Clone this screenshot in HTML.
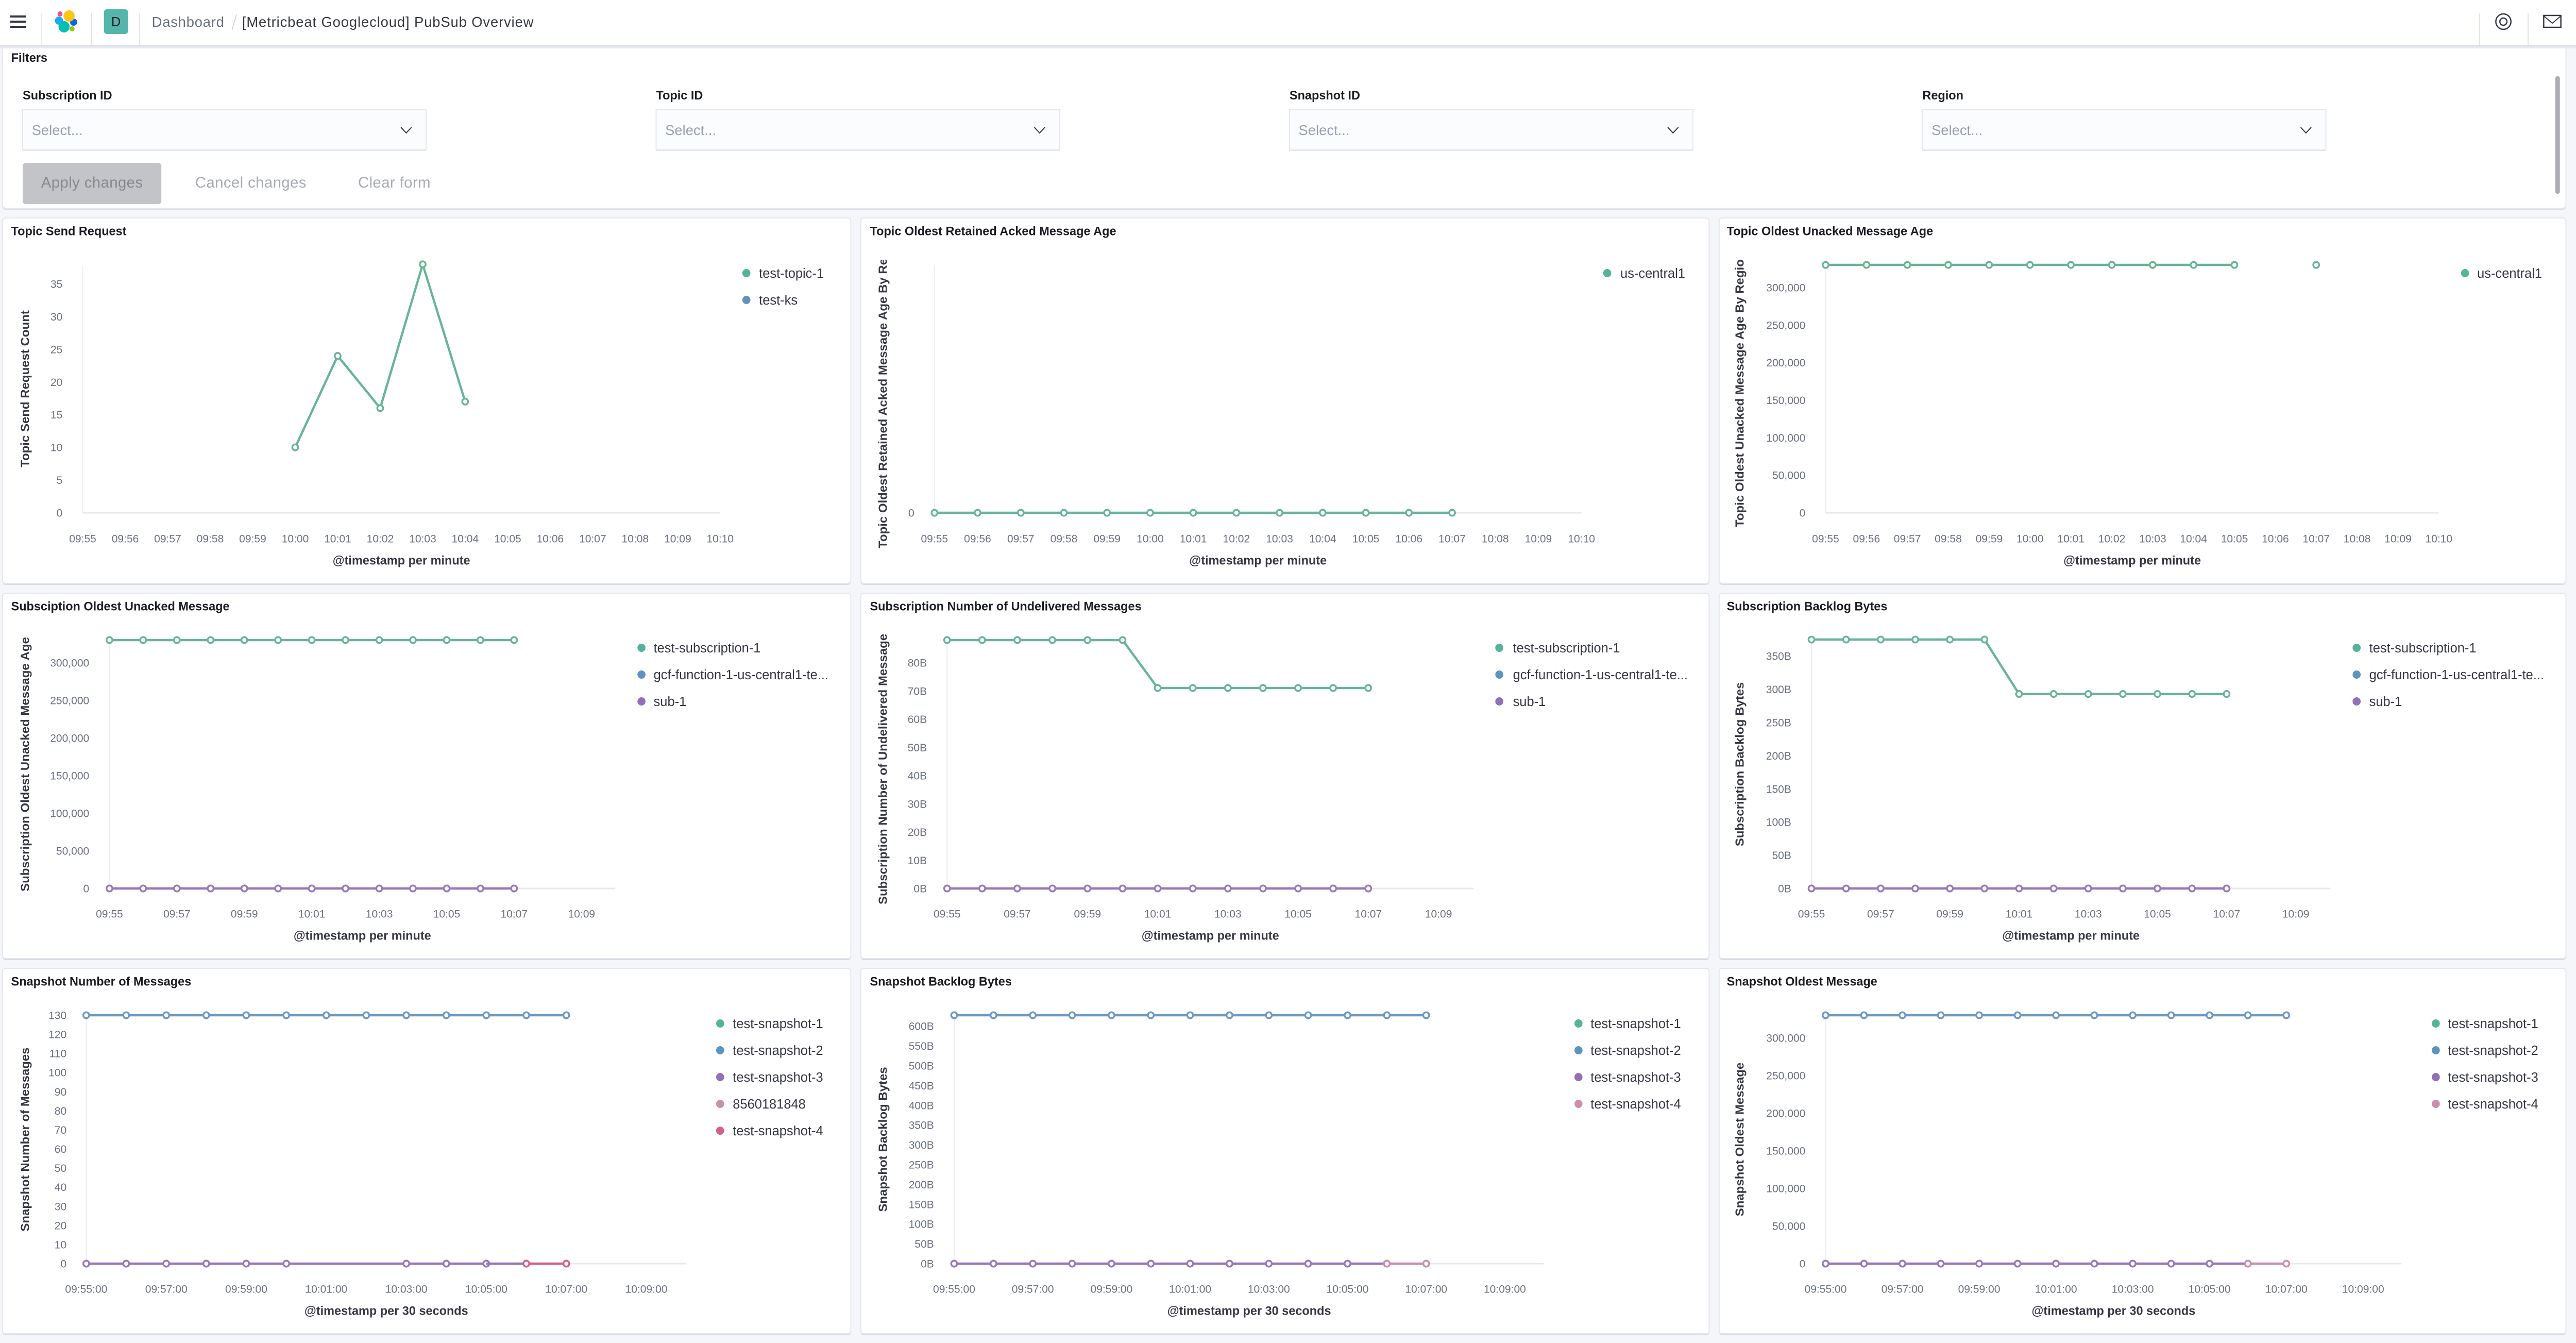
<!DOCTYPE html>
<html>
<head>
<meta charset="utf-8">
<style>
html,body{margin:0;padding:0;background:#F4F6FA;width:100%;height:100%;overflow:hidden;}
svg.root{display:block;position:fixed;left:0;top:0;width:100vw;height:100vh}
.tk{font-size:21.5px;fill:#69707D}
.tt{font-size:24px;font-weight:bold;fill:#1A1C21}
.at{font-size:24px;font-weight:bold;fill:#343741}
.lg{font-size:26px;fill:#343741}
.ax{stroke:#E6E8EC;stroke-width:3}
.ay{stroke:#ECEDF1;stroke-width:2}
.ln{fill:none;stroke-width:4.5;stroke-linejoin:round}
</style>
</head>
<body>
<svg class="root" width="5108" height="2606" viewBox="0 0 5108 2606" preserveAspectRatio="none" xmlns="http://www.w3.org/2000/svg" font-family="'Liberation Sans', Arial, sans-serif">
<defs>
<marker id="mG" markerUnits="userSpaceOnUse" markerWidth="20" markerHeight="20" refX="10" refY="10" overflow="visible"><circle cx="10" cy="10" r="5.8" fill="#fff" stroke="#68B496" stroke-width="3.5"/></marker>
<marker id="mB" markerUnits="userSpaceOnUse" markerWidth="20" markerHeight="20" refX="10" refY="10" overflow="visible"><circle cx="10" cy="10" r="5.8" fill="#fff" stroke="#6D98C3" stroke-width="3.5"/></marker>
<marker id="mP" markerUnits="userSpaceOnUse" markerWidth="20" markerHeight="20" refX="10" refY="10" overflow="visible"><circle cx="10" cy="10" r="5.8" fill="#fff" stroke="#9677BB" stroke-width="3.5"/></marker>
<marker id="mR" markerUnits="userSpaceOnUse" markerWidth="20" markerHeight="20" refX="10" refY="10" overflow="visible"><circle cx="10" cy="10" r="5.8" fill="#fff" stroke="#D36086" stroke-width="3.5"/></marker>
<marker id="mK" markerUnits="userSpaceOnUse" markerWidth="20" markerHeight="20" refX="10" refY="10" overflow="visible"><circle cx="10" cy="10" r="5.8" fill="#fff" stroke="#CA8EAE" stroke-width="3.5"/></marker>
<clipPath id="c2"><rect x="1700" y="504" width="100" height="600"/></clipPath>
<clipPath id="c3"><rect x="3400" y="504" width="100" height="600"/></clipPath>
<clipPath id="c5"><rect x="1700" y="1231" width="100" height="600"/></clipPath>
</defs>

<rect x="0" y="0" width="5108" height="2606" fill="#F4F6FA"/>

<!-- Filter panel -->
<rect x="5" y="80" width="5083" height="327" rx="6" fill="#D9DDE5"/>
<rect x="5" y="80" width="5083" height="324" rx="6" fill="#FFFFFF" stroke="#E3E7EE" stroke-width="2"/>
<text x="22" y="120" class="tt">Filters</text>

<text x="45" y="193" class="tt">Subscription ID</text>
<text x="1301" y="193" class="tt">Topic ID</text>
<text x="2557" y="193" class="tt">Snapshot ID</text>
<text x="3812" y="193" class="tt">Region</text>

<g>
<rect x="45" y="214" width="800" height="79" fill="#E2E5EC"/>
<rect x="45" y="212" width="800" height="79" fill="#FBFCFD" stroke="#E3E7EF" stroke-width="2"/>
<text x="63" y="262" font-size="28" fill="#98A1B0">Select...</text>
<polyline points="795,247 805.5,258 816,247" fill="none" stroke="#343741" stroke-width="2"/>
</g>
<g>
<rect x="1301" y="214" width="800" height="79" fill="#E2E5EC"/>
<rect x="1301" y="212" width="800" height="79" fill="#FBFCFD" stroke="#E3E7EF" stroke-width="2"/>
<text x="1319" y="262" font-size="28" fill="#98A1B0">Select...</text>
<polyline points="2051,247 2061.5,258 2072,247" fill="none" stroke="#343741" stroke-width="2"/>
</g>
<g>
<rect x="2557" y="214" width="800" height="79" fill="#E2E5EC"/>
<rect x="2557" y="212" width="800" height="79" fill="#FBFCFD" stroke="#E3E7EF" stroke-width="2"/>
<text x="2575" y="262" font-size="28" fill="#98A1B0">Select...</text>
<polyline points="3307,247 3317.5,258 3328,247" fill="none" stroke="#343741" stroke-width="2"/>
</g>
<g>
<rect x="3812" y="214" width="800" height="79" fill="#E2E5EC"/>
<rect x="3812" y="212" width="800" height="79" fill="#FBFCFD" stroke="#E3E7EF" stroke-width="2"/>
<text x="3830" y="262" font-size="28" fill="#98A1B0">Select...</text>
<polyline points="4562,247 4572.5,258 4583,247" fill="none" stroke="#343741" stroke-width="2"/>
</g>

<rect x="45" y="316" width="275" height="80" rx="6" fill="#C3C4C7"/>
<text x="182.5" y="364" font-size="30" fill="#85888E" text-anchor="middle" letter-spacing="0.4">Apply changes</text>
<text x="387" y="364" font-size="30" fill="#A7ABB1" letter-spacing="0.4">Cancel changes</text>
<text x="710" y="364" font-size="30" fill="#A7ABB1" letter-spacing="0.4">Clear form</text>
<rect x="5067" y="148" width="9" height="228" rx="4" fill="#A9ACB2"/>

<!-- Header -->
<rect x="0" y="88" width="5108" height="6" fill="#E6E9EF"/>
<rect x="0" y="0" width="5108" height="90" fill="#FFFFFF"/>
<rect x="0" y="88" width="5108" height="2" fill="#D3DAE6"/>
<rect x="20" y="30" width="32" height="4" fill="#343741"/>
<rect x="20" y="40" width="32" height="4" fill="#343741"/>
<rect x="20" y="50" width="32" height="4" fill="#343741"/>
<line x1="83" y1="26" x2="83" y2="90" stroke="#D3DAE6" stroke-width="1.5"/>
<line x1="181" y1="26" x2="181" y2="90" stroke="#D3DAE6" stroke-width="1.5"/>
<line x1="277" y1="26" x2="277" y2="90" stroke="#D3DAE6" stroke-width="1.5"/>
<ellipse cx="117" cy="40" rx="8" ry="8" fill="#1BA9F5"/>
<ellipse cx="146" cy="43" rx="7" ry="7" fill="#0B64DD"/>
<ellipse cx="127" cy="52" rx="11" ry="11" fill="#00BFB3"/>
<ellipse cx="143" cy="56" rx="5" ry="5" fill="#93C90E"/>
<ellipse cx="137" cy="31" rx="11" ry="11" fill="#FEC514"/>
<circle cx="119" cy="27" r="5" fill="#F04E98"/>
<rect x="206" y="18" width="48" height="48" rx="6" fill="#54B5AB"/>
<text x="230" y="51" font-size="26" fill="#1A1C21" text-anchor="middle">D</text>
<text x="301" y="52" font-size="28" fill="#69707D" letter-spacing="0.8">Dashboard</text>
<line x1="469" y1="28" x2="460" y2="58" stroke="#C9CED6" stroke-width="1.5"/>
<text x="480" y="52" font-size="28" fill="#343741" letter-spacing="0.9">[Metricbeat Googlecloud] PubSub Overview</text>
<line x1="4917" y1="26" x2="4917" y2="90" stroke="#D3DAE6" stroke-width="1.5"/>
<line x1="5013" y1="26" x2="5013" y2="90" stroke="#D3DAE6" stroke-width="1.5"/>
<circle cx="4964" cy="42" r="15" fill="none" stroke="#343741" stroke-width="2.5"/>
<circle cx="4964" cy="42" r="7" fill="none" stroke="#343741" stroke-width="2.5"/>
<rect x="5044" y="30" width="34" height="23" fill="none" stroke="#343741" stroke-width="2.5"/>
<polyline points="5044,31 5061,45 5078,31" fill="none" stroke="#343741" stroke-width="2"/>

<!-- Panel backgrounds -->
<g fill="#D8DCE4">
<rect x="5" y="426" width="1682" height="709" rx="6"/>
<rect x="1707" y="426" width="1682" height="709" rx="6"/>
<rect x="3409" y="426" width="1679" height="709" rx="6"/>
<rect x="5" y="1154" width="1682" height="709" rx="6"/>
<rect x="1707" y="1154" width="1682" height="709" rx="6"/>
<rect x="3409" y="1154" width="1679" height="709" rx="6"/>
<rect x="5" y="1882" width="1682" height="709" rx="6"/>
<rect x="1707" y="1882" width="1682" height="709" rx="6"/>
<rect x="3409" y="1882" width="1679" height="709" rx="6"/>
</g>
<g fill="#FFFFFF" stroke="#E3E7EE" stroke-width="2">
<rect x="5" y="423" width="1682" height="709" rx="6"/>
<rect x="1707" y="423" width="1682" height="709" rx="6"/>
<rect x="3409" y="423" width="1679" height="709" rx="6"/>
<rect x="5" y="1151" width="1682" height="709" rx="6"/>
<rect x="1707" y="1151" width="1682" height="709" rx="6"/>
<rect x="3409" y="1151" width="1679" height="709" rx="6"/>
<rect x="5" y="1879" width="1682" height="709" rx="6"/>
<rect x="1707" y="1879" width="1682" height="709" rx="6"/>
<rect x="3409" y="1879" width="1679" height="709" rx="6"/>
</g>

<!-- ========== PANEL 1 ========== -->
<text x="22" y="456.5" class="tt">Topic Send Request</text>
<line x1="164" y1="514" x2="164" y2="995" class="ay"/>
<line x1="164" y1="995" x2="1428" y2="995" class="ax"/>
<g class="tk" text-anchor="end">
<text x="124" y="1002.5">0</text><text x="124" y="939.1">5</text><text x="124" y="875.6">10</text><text x="124" y="812.2">15</text>
<text x="124" y="748.8">20</text><text x="124" y="685.4">25</text><text x="124" y="622">30</text><text x="124" y="558.5">35</text>
</g>
<g class="tk" text-anchor="middle">
<text x="164" y="1052.5">09:55</text><text x="248.3" y="1052.5">09:56</text><text x="332.5" y="1052.5">09:57</text><text x="416.8" y="1052.5">09:58</text>
<text x="501.1" y="1052.5">09:59</text><text x="585.4" y="1052.5">10:00</text><text x="669.6" y="1052.5">10:01</text><text x="753.9" y="1052.5">10:02</text>
<text x="838.2" y="1052.5">10:03</text><text x="922.4" y="1052.5">10:04</text><text x="1006.7" y="1052.5">10:05</text><text x="1091" y="1052.5">10:06</text>
<text x="1175.2" y="1052.5">10:07</text><text x="1259.5" y="1052.5">10:08</text><text x="1343.8" y="1052.5">10:09</text><text x="1428" y="1052.5">10:10</text>
</g>
<text x="796" y="1095.5" class="at" text-anchor="middle">@timestamp per minute</text>
<text transform="translate(49,754.5) rotate(-90)" dy="8.5" class="at" text-anchor="middle">Topic Send Request Count</text>
<polyline class="ln" stroke="#68B496" stroke-width="4" marker-start="url(#mG)" marker-mid="url(#mG)" marker-end="url(#mG)" points="585.4,868.1 669.6,690.5 753.9,792 838.2,512.9 922.4,779.3"/>
<circle cx="1480" cy="530" r="8" fill="#54B399"/><text x="1505" y="539" class="lg">test-topic-1</text>
<circle cx="1480" cy="582" r="8" fill="#6092C0"/><text x="1505" y="591" class="lg">test-ks</text>

<!-- ========== PANEL 2 ========== -->
<text x="1725" y="456.5" class="tt">Topic Oldest Retained Acked Message Age</text>
<line x1="1853" y1="514" x2="1853" y2="995" class="ay"/>
<line x1="1853" y1="995" x2="3136" y2="995" class="ax"/>
<text x="1813" y="1002.5" class="tk" text-anchor="end">0</text>
<g class="tk" text-anchor="middle">
<text x="1853" y="1052.5">09:55</text><text x="1938.5" y="1052.5">09:56</text><text x="2024.1" y="1052.5">09:57</text><text x="2109.6" y="1052.5">09:58</text>
<text x="2195.1" y="1052.5">09:59</text><text x="2280.7" y="1052.5">10:00</text><text x="2366.2" y="1052.5">10:01</text><text x="2451.7" y="1052.5">10:02</text>
<text x="2537.2" y="1052.5">10:03</text><text x="2622.8" y="1052.5">10:04</text><text x="2708.3" y="1052.5">10:05</text><text x="2793.8" y="1052.5">10:06</text>
<text x="2879.4" y="1052.5">10:07</text><text x="2964.9" y="1052.5">10:08</text><text x="3050.4" y="1052.5">10:09</text><text x="3136" y="1052.5">10:10</text>
</g>
<text x="2494.5" y="1095.5" class="at" text-anchor="middle">@timestamp per minute</text>
<g clip-path="url(#c2)"><text transform="translate(1750,1064) rotate(-90)" dy="8.5" class="at" text-anchor="start">Topic Oldest Retained Acked Message Age By Region</text></g>
<polyline class="ln" stroke="#68B496" marker-start="url(#mG)" marker-mid="url(#mG)" marker-end="url(#mG)" points="1853,995 1938.5,995 2024.1,995 2109.6,995 2195.1,995 2280.7,995 2366.2,995 2451.7,995 2537.2,995 2622.8,995 2708.3,995 2793.8,995 2879.4,995"/>
<circle cx="3187" cy="530" r="8" fill="#54B399"/><text x="3213" y="539" class="lg">us-central1</text>

<!-- ========== PANEL 3 ========== -->
<text x="3424" y="456.5" class="tt">Topic Oldest Unacked Message Age</text>
<line x1="3620" y1="514" x2="3620" y2="995" class="ay"/>
<line x1="3620" y1="995" x2="4836" y2="995" class="ax"/>
<g class="tk" text-anchor="end">
<text x="3580" y="1002.5">0</text><text x="3580" y="929.7">50,000</text><text x="3580" y="856.8">100,000</text><text x="3580" y="784">150,000</text>
<text x="3580" y="711.2">200,000</text><text x="3580" y="638.3">250,000</text><text x="3580" y="565.5">300,000</text>
</g>
<g class="tk" text-anchor="middle">
<text x="3620" y="1052.5">09:55</text><text x="3701.1" y="1052.5">09:56</text><text x="3782.1" y="1052.5">09:57</text><text x="3863.2" y="1052.5">09:58</text>
<text x="3944.3" y="1052.5">09:59</text><text x="4025.3" y="1052.5">10:00</text><text x="4106.4" y="1052.5">10:01</text><text x="4187.5" y="1052.5">10:02</text>
<text x="4268.6" y="1052.5">10:03</text><text x="4349.6" y="1052.5">10:04</text><text x="4430.7" y="1052.5">10:05</text><text x="4511.8" y="1052.5">10:06</text>
<text x="4592.8" y="1052.5">10:07</text><text x="4673.9" y="1052.5">10:08</text><text x="4755" y="1052.5">10:09</text><text x="4836" y="1052.5">10:10</text>
</g>
<text x="4228" y="1095.5" class="at" text-anchor="middle">@timestamp per minute</text>
<g clip-path="url(#c3)"><text transform="translate(3449,1023) rotate(-90)" dy="8.5" class="at" text-anchor="start">Topic Oldest Unacked Message Age By Region</text></g>
<polyline class="ln" stroke="#68B496" marker-start="url(#mG)" marker-mid="url(#mG)" marker-end="url(#mG)" points="3620,514 3701.1,514 3782.1,514 3863.2,514 3944.3,514 4025.3,514 4106.4,514 4187.5,514 4268.6,514 4349.6,514 4430.7,514"/>
<circle cx="4592.8" cy="514" r="5.8" fill="#fff" stroke="#68B496" stroke-width="3.5"/>
<circle cx="4888" cy="530" r="8" fill="#54B399"/><text x="4912" y="539" class="lg">us-central1</text>

<!-- ========== PANEL 4 ========== -->
<text x="22" y="1184.5" class="tt">Subsciption Oldest Unacked Message</text>
<line x1="217" y1="1242" x2="217" y2="1724" class="ay"/>
<line x1="217" y1="1724" x2="1220" y2="1724" class="ax"/>
<g class="tk" text-anchor="end">
<text x="177" y="1731.5">0</text><text x="177" y="1658.5">50,000</text><text x="177" y="1585.5">100,000</text><text x="177" y="1512.5">150,000</text>
<text x="177" y="1439.5">200,000</text><text x="177" y="1366.5">250,000</text><text x="177" y="1293.5">300,000</text>
</g>
<g class="tk" text-anchor="middle">
<text x="217" y="1780.5">09:55</text><text x="350.7" y="1780.5">09:57</text><text x="484.5" y="1780.5">09:59</text><text x="618.2" y="1780.5">10:01</text>
<text x="752" y="1780.5">10:03</text><text x="885.7" y="1780.5">10:05</text><text x="1019.4" y="1780.5">10:07</text><text x="1153.2" y="1780.5">10:09</text>
</g>
<text x="718.5" y="1823.5" class="at" text-anchor="middle">@timestamp per minute</text>
<text transform="translate(49,1483) rotate(-90)" dy="8.5" class="at" text-anchor="middle">Subscription Oldest Unacked Message Age</text>
<polyline class="ln" stroke="#68B496" marker-start="url(#mG)" marker-mid="url(#mG)" marker-end="url(#mG)" points="217,1242 283.9,1242 350.7,1242 417.6,1242 484.5,1242 551.4,1242 618.2,1242 685.1,1242 752,1242 818.8,1242 885.7,1242 952.6,1242 1019.4,1242"/>
<polyline class="ln" stroke="#9677BB" marker-start="url(#mP)" marker-mid="url(#mP)" marker-end="url(#mP)" points="217,1724 283.9,1724 350.7,1724 417.6,1724 484.5,1724 551.4,1724 618.2,1724 685.1,1724 752,1724 818.8,1724 885.7,1724 952.6,1724 1019.4,1724"/>
<circle cx="1272" cy="1257" r="8" fill="#54B399"/><text x="1296" y="1266" class="lg">test-subscription-1</text>
<circle cx="1272" cy="1309" r="8" fill="#6092C0"/><text x="1296" y="1318" class="lg">gcf-function-1-us-central1-te...</text>
<circle cx="1272" cy="1361" r="8" fill="#9170B8"/><text x="1296" y="1370" class="lg">sub-1</text>

<!-- ========== PANEL 5 ========== -->
<text x="1725" y="1184.5" class="tt">Subscription Number of Undelivered Messages</text>
<line x1="1878" y1="1242" x2="1878" y2="1724" class="ay"/>
<line x1="1878" y1="1724" x2="2922" y2="1724" class="ax"/>
<g class="tk" text-anchor="end">
<text x="1838" y="1731.5">0B</text><text x="1838" y="1676.8">10B</text><text x="1838" y="1622">20B</text><text x="1838" y="1567.3">30B</text>
<text x="1838" y="1512.5">40B</text><text x="1838" y="1457.8">50B</text><text x="1838" y="1403">60B</text><text x="1838" y="1348.3">70B</text><text x="1838" y="1293.5">80B</text>
</g>
<g class="tk" text-anchor="middle">
<text x="1878" y="1780.5">09:55</text><text x="2017.2" y="1780.5">09:57</text><text x="2156.4" y="1780.5">09:59</text><text x="2295.6" y="1780.5">10:01</text>
<text x="2434.8" y="1780.5">10:03</text><text x="2574" y="1780.5">10:05</text><text x="2713.2" y="1780.5">10:07</text><text x="2852.4" y="1780.5">10:09</text>
</g>
<text x="2400" y="1823.5" class="at" text-anchor="middle">@timestamp per minute</text>
<g clip-path="url(#c5)"><text transform="translate(1750,1755) rotate(-90)" dy="8.5" class="at" text-anchor="start">Subscription Number of Undelivered Messages</text></g>
<polyline class="ln" stroke="#68B496" marker-start="url(#mG)" marker-mid="url(#mG)" marker-end="url(#mG)" points="1878,1242 1947.6,1242 2017.2,1242 2086.8,1242 2156.4,1242 2226,1242 2295.6,1335 2365.2,1335 2434.8,1335 2504.4,1335 2574,1335 2643.6,1335 2713.2,1335"/>
<polyline class="ln" stroke="#9677BB" marker-start="url(#mP)" marker-mid="url(#mP)" marker-end="url(#mP)" points="1878,1724 1947.6,1724 2017.2,1724 2086.8,1724 2156.4,1724 2226,1724 2295.6,1724 2365.2,1724 2434.8,1724 2504.4,1724 2574,1724 2643.6,1724 2713.2,1724"/>
<circle cx="2973" cy="1257" r="8" fill="#54B399"/><text x="3000" y="1266" class="lg">test-subscription-1</text>
<circle cx="2973" cy="1309" r="8" fill="#6092C0"/><text x="3000" y="1318" class="lg">gcf-function-1-us-central1-te...</text>
<circle cx="2973" cy="1361" r="8" fill="#9170B8"/><text x="3000" y="1370" class="lg">sub-1</text>

<!-- ========== PANEL 6 ========== -->
<text x="3424" y="1184.5" class="tt">Subscription Backlog Bytes</text>
<line x1="3592" y1="1242" x2="3592" y2="1724" class="ay"/>
<line x1="3592" y1="1724" x2="4621" y2="1724" class="ax"/>
<g class="tk" text-anchor="end">
<text x="3552" y="1731.5">0B</text><text x="3552" y="1667.1">50B</text><text x="3552" y="1602.7">100B</text><text x="3552" y="1538.3">150B</text>
<text x="3552" y="1473.9">200B</text><text x="3552" y="1409.5">250B</text><text x="3552" y="1345.1">300B</text><text x="3552" y="1280.7">350B</text>
</g>
<g class="tk" text-anchor="middle">
<text x="3592" y="1780.5">09:55</text><text x="3729.2" y="1780.5">09:57</text><text x="3866.4" y="1780.5">09:59</text><text x="4003.6" y="1780.5">10:01</text>
<text x="4140.8" y="1780.5">10:03</text><text x="4278" y="1780.5">10:05</text><text x="4415.2" y="1780.5">10:07</text><text x="4552.4" y="1780.5">10:09</text>
</g>
<text x="4106.5" y="1823.5" class="at" text-anchor="middle">@timestamp per minute</text>
<text transform="translate(3449,1483) rotate(-90)" dy="8.5" class="at" text-anchor="middle">Subscription Backlog Bytes</text>
<polyline class="ln" stroke="#68B496" marker-start="url(#mG)" marker-mid="url(#mG)" marker-end="url(#mG)" points="3592,1241 3660.6,1241 3729.2,1241 3797.8,1241 3866.4,1241 3935,1241 4003.6,1346.6 4072.2,1346.6 4140.8,1346.6 4209.4,1346.6 4278,1346.6 4346.6,1346.6 4415.2,1346.6"/>
<polyline class="ln" stroke="#9677BB" marker-start="url(#mP)" marker-mid="url(#mP)" marker-end="url(#mP)" points="3592,1724 3660.6,1724 3729.2,1724 3797.8,1724 3866.4,1724 3935,1724 4003.6,1724 4072.2,1724 4140.8,1724 4209.4,1724 4278,1724 4346.6,1724 4415.2,1724"/>
<circle cx="4673" cy="1257" r="8" fill="#54B399"/><text x="4698" y="1266" class="lg">test-subscription-1</text>
<circle cx="4673" cy="1309" r="8" fill="#6092C0"/><text x="4698" y="1318" class="lg">gcf-function-1-us-central1-te...</text>
<circle cx="4673" cy="1361" r="8" fill="#9170B8"/><text x="4698" y="1370" class="lg">sub-1</text>

<!-- ========== PANEL 7 ========== -->
<text x="22" y="1912.5" class="tt">Snapshot Number of Messages</text>
<line x1="171" y1="1970" x2="171" y2="2452" class="ay"/>
<line x1="171" y1="2452" x2="1361" y2="2452" class="ax"/>
<g class="tk" text-anchor="end">
<text x="132" y="2459.5">0</text><text x="132" y="2422.4">10</text><text x="132" y="2385.3">20</text><text x="132" y="2348.3">30</text>
<text x="132" y="2311.2">40</text><text x="132" y="2274.1">50</text><text x="132" y="2237">60</text><text x="132" y="2200">70</text>
<text x="132" y="2162.9">80</text><text x="132" y="2125.8">90</text><text x="132" y="2088.7">100</text><text x="132" y="2051.7">110</text>
<text x="132" y="2014.6">120</text><text x="132" y="1977.5">130</text>
</g>
<g class="tk" text-anchor="middle">
<text x="171" y="2508.5">09:55:00</text><text x="329.7" y="2508.5">09:57:00</text><text x="488.3" y="2508.5">09:59:00</text><text x="647" y="2508.5">10:01:00</text>
<text x="805.6" y="2508.5">10:03:00</text><text x="964.3" y="2508.5">10:05:00</text><text x="1123" y="2508.5">10:07:00</text><text x="1281.6" y="2508.5">10:09:00</text>
</g>
<text x="766" y="2551.5" class="at" text-anchor="middle">@timestamp per 30 seconds</text>
<text transform="translate(49,2211) rotate(-90)" dy="8.5" class="at" text-anchor="middle">Snapshot Number of Messages</text>
<polyline class="ln" stroke="#6D98C3" marker-start="url(#mB)" marker-mid="url(#mB)" marker-end="url(#mB)" points="171,1970 250.3,1970 329.7,1970 409,1970 488.3,1970 567.7,1970 647,1970 726.3,1970 805.6,1970 885,1970 964.3,1970 1043.6,1970 1123,1970"/>
<polyline class="ln" stroke="#9677BB" points="567.7,2452 805.6,2452"/>
<polyline class="ln" stroke="#9677BB" marker-start="url(#mP)" marker-mid="url(#mP)" marker-end="url(#mP)" points="171,2452 250.3,2452 329.7,2452 409,2452 488.3,2452 567.7,2452"/>
<polyline class="ln" stroke="#9677BB" marker-start="url(#mP)" marker-mid="url(#mP)" marker-end="url(#mP)" points="805.6,2452 885,2452 964.3,2452"/>
<polyline class="ln" stroke="#9677BB" points="964.3,2452 1043.6,2452"/>
<polyline class="ln" stroke="#D36086" marker-start="url(#mR)" marker-end="url(#mR)" points="1043.6,2452 1123,2452"/>
<circle cx="1428" cy="1986" r="8" fill="#54B399"/><text x="1453" y="1995" class="lg">test-snapshot-1</text>
<circle cx="1428" cy="2038" r="8" fill="#6092C0"/><text x="1453" y="2047" class="lg">test-snapshot-2</text>
<circle cx="1428" cy="2090" r="8" fill="#9170B8"/><text x="1453" y="2099" class="lg">test-snapshot-3</text>
<circle cx="1428" cy="2142" r="8" fill="#CA8EAE"/><text x="1453" y="2151" class="lg">8560181848</text>
<circle cx="1428" cy="2194" r="8" fill="#D36086"/><text x="1453" y="2203" class="lg">test-snapshot-4</text>

<!-- ========== PANEL 8 ========== -->
<text x="1725" y="1912.5" class="tt">Snapshot Backlog Bytes</text>
<line x1="1892" y1="1970" x2="1892" y2="2452" class="ay"/>
<line x1="1892" y1="2452" x2="3062" y2="2452" class="ax"/>
<g class="tk" text-anchor="end">
<text x="1852" y="2459.5">0B</text><text x="1852" y="2421.1">50B</text><text x="1852" y="2382.7">100B</text><text x="1852" y="2344.3">150B</text>
<text x="1852" y="2305.9">200B</text><text x="1852" y="2267.5">250B</text><text x="1852" y="2229.1">300B</text><text x="1852" y="2190.7">350B</text>
<text x="1852" y="2152.3">400B</text><text x="1852" y="2113.9">450B</text><text x="1852" y="2075.5">500B</text><text x="1852" y="2037.1">550B</text>
<text x="1852" y="1998.7">600B</text>
</g>
<g class="tk" text-anchor="middle">
<text x="1892" y="2508.5">09:55:00</text><text x="2048" y="2508.5">09:57:00</text><text x="2204" y="2508.5">09:59:00</text><text x="2360" y="2508.5">10:01:00</text>
<text x="2516" y="2508.5">10:03:00</text><text x="2672" y="2508.5">10:05:00</text><text x="2828" y="2508.5">10:07:00</text><text x="2984" y="2508.5">10:09:00</text>
</g>
<text x="2477" y="2551.5" class="at" text-anchor="middle">@timestamp per 30 seconds</text>
<text transform="translate(1750,2211) rotate(-90)" dy="8.5" class="at" text-anchor="middle">Snapshot Backlog Bytes</text>
<polyline class="ln" stroke="#6D98C3" marker-start="url(#mB)" marker-mid="url(#mB)" marker-end="url(#mB)" points="1892,1970 1970,1970 2048,1970 2126,1970 2204,1970 2282,1970 2360,1970 2438,1970 2516,1970 2594,1970 2672,1970 2750,1970 2828,1970"/>
<polyline class="ln" stroke="#9677BB" marker-start="url(#mP)" marker-mid="url(#mP)" marker-end="url(#mP)" points="1892,2452 1970,2452 2048,2452 2126,2452 2204,2452 2282,2452 2360,2452 2438,2452 2516,2452 2594,2452 2672,2452 2750,2452"/>
<polyline class="ln" stroke="#CA8EAE" marker-start="url(#mK)" marker-end="url(#mK)" points="2750,2452 2828,2452"/>
<circle cx="3130" cy="1986" r="8" fill="#54B399"/><text x="3154" y="1995" class="lg">test-snapshot-1</text>
<circle cx="3130" cy="2038" r="8" fill="#6092C0"/><text x="3154" y="2047" class="lg">test-snapshot-2</text>
<circle cx="3130" cy="2090" r="8" fill="#9170B8"/><text x="3154" y="2099" class="lg">test-snapshot-3</text>
<circle cx="3130" cy="2142" r="8" fill="#CA8EAE"/><text x="3154" y="2151" class="lg">test-snapshot-4</text>

<!-- ========== PANEL 9 ========== -->
<text x="3424" y="1912.5" class="tt">Snapshot Oldest Message</text>
<line x1="3620" y1="1970" x2="3620" y2="2452" class="ay"/>
<line x1="3620" y1="2452" x2="4762" y2="2452" class="ax"/>
<g class="tk" text-anchor="end">
<text x="3580" y="2459.5">0</text><text x="3580" y="2386.5">50,000</text><text x="3580" y="2313.5">100,000</text><text x="3580" y="2240.5">150,000</text>
<text x="3580" y="2167.5">200,000</text><text x="3580" y="2094.5">250,000</text><text x="3580" y="2021.5">300,000</text>
</g>
<g class="tk" text-anchor="middle">
<text x="3620" y="2508.5">09:55:00</text><text x="3772.3" y="2508.5">09:57:00</text><text x="3924.5" y="2508.5">09:59:00</text><text x="4076.8" y="2508.5">10:01:00</text>
<text x="4229" y="2508.5">10:03:00</text><text x="4381.3" y="2508.5">10:05:00</text><text x="4533.6" y="2508.5">10:07:00</text><text x="4685.8" y="2508.5">10:09:00</text>
</g>
<text x="4191" y="2551.5" class="at" text-anchor="middle">@timestamp per 30 seconds</text>
<text transform="translate(3449,2211) rotate(-90)" dy="8.5" class="at" text-anchor="middle">Snapshot Oldest Message</text>
<polyline class="ln" stroke="#6D98C3" marker-start="url(#mB)" marker-mid="url(#mB)" marker-end="url(#mB)" points="3620,1970 3696.1,1970 3772.3,1970 3848.4,1970 3924.5,1970 4000.7,1970 4076.8,1970 4152.9,1970 4229,1970 4305.2,1970 4381.3,1970 4457.4,1970 4533.6,1970"/>
<polyline class="ln" stroke="#9677BB" marker-start="url(#mP)" marker-mid="url(#mP)" marker-end="url(#mP)" points="3620,2452 3696.1,2452 3772.3,2452 3848.4,2452 3924.5,2452 4000.7,2452 4076.8,2452 4152.9,2452 4229,2452 4305.2,2452 4381.3,2452 4457.4,2452"/>
<polyline class="ln" stroke="#CA8EAE" marker-start="url(#mK)" marker-end="url(#mK)" points="4457.4,2452 4533.6,2452"/>
<circle cx="4830" cy="1986" r="8" fill="#54B399"/><text x="4854" y="1995" class="lg">test-snapshot-1</text>
<circle cx="4830" cy="2038" r="8" fill="#6092C0"/><text x="4854" y="2047" class="lg">test-snapshot-2</text>
<circle cx="4830" cy="2090" r="8" fill="#9170B8"/><text x="4854" y="2099" class="lg">test-snapshot-3</text>
<circle cx="4830" cy="2142" r="8" fill="#CA8EAE"/><text x="4854" y="2151" class="lg">test-snapshot-4</text>

</svg>
</body>
</html>
